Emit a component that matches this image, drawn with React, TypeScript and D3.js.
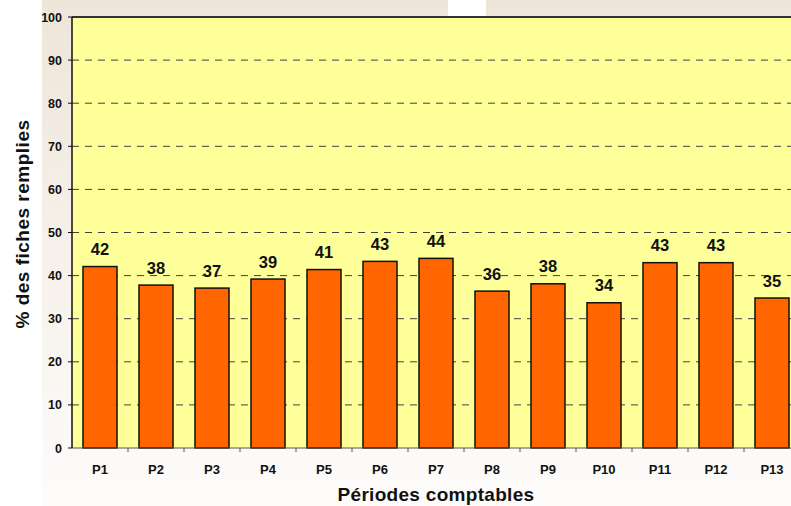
import React from "react";
import * as d3 from "d3";

const categories = ["P1", "P2", "P3", "P4", "P5", "P6", "P7", "P8", "P9", "P10", "P11", "P12", "P13"];
const values = [42.1, 37.8, 37.1, 39.2, 41.4, 43.3, 44.0, 36.4, 38.1, 33.7, 43.0, 43.0, 34.8];
const yTicks = [0, 10, 20, 30, 40, 50, 60, 70, 80, 90, 100];
const yTitle = "% des fiches remplies";
const xTitle = "Périodes comptables";

const W = 791;
const H = 506;
const FONT = "Arial, 'Liberation Sans', sans-serif";

export default function App() {
  const left = 72;
  const top = 17;
  const bottom = 448;
  const plotRight = 800;
  const x = d3.scaleBand<string>().domain(categories).range([left, plotRight]).paddingInner(22 / 56).paddingOuter(11 / 56);
  const xOuter = d3.scaleBand<string>().domain(categories).range([left, plotRight]);
  const y = d3.scaleLinear().domain([0, 100]).range([bottom, top]);
  const fmt = d3.format(".0f");

  return (
    <svg width={W} height={H} style={{ position: "absolute", left: 0, top: 0 }} xmlns="http://www.w3.org/2000/svg">
      <defs>
        <linearGradient id="bg" x1="0" y1="0" x2="0" y2="1">
          <stop offset="0" stopColor="#EFE5D9" />
          <stop offset="1" stopColor="#FDFCFB" />
        </linearGradient>
      </defs>
      <rect x={0} y={0} width={W} height={H} fill="#ffffff" />
      <rect x={42} y={0} width={W - 42} height={H} fill="url(#bg)" />
      <rect x={448} y={0} width={38} height={16} fill="#ffffff" />
      {/* plot area */}
      <rect x={left} y={top} width={plotRight - left} height={bottom - top} fill="#FFFF99" />
      {/* gridlines */}
      {yTicks.filter((t) => t > 0 && t < 100).map((t) => (
        <line key={"g" + t} x1={left} x2={plotRight} y1={y(t)} y2={y(t)} stroke="#404040" strokeWidth={1} strokeDasharray="7,6" />
      ))}
      {/* top border */}
      <line x1={left} x2={plotRight} y1={y(100)} y2={y(100)} stroke="#333333" strokeWidth={2} />
      {/* bars */}
      {categories.map((c, i) => (
        <rect key={c} x={x(c)!} y={y(values[i])} width={x.bandwidth()} height={bottom - y(values[i])} fill="#FF6600" stroke="#111111" strokeWidth={1.5} />
      ))}
      {/* data labels */}
      {categories.map((c, i) => (
        <text key={"l" + c} x={x(c)! + x.bandwidth() / 2} y={y(values[i]) - 11.5} textAnchor="middle" fontFamily={FONT} fontWeight="bold" fontSize={16.5} fill="#111111">
          {fmt(values[i])}
        </text>
      ))}
      {/* x axis */}
      <line x1={left} x2={plotRight} y1={bottom} y2={bottom} stroke="#555555" strokeWidth={1} />
      {categories.map((c) => (
        <line key={"t" + c} x1={xOuter(c)! + xOuter.bandwidth()} x2={xOuter(c)! + xOuter.bandwidth()} y1={bottom} y2={bottom + 4} stroke="#555555" strokeWidth={1} />
      ))}
      {categories.map((c) => (
        <text key={"c" + c} x={xOuter(c)! + xOuter.bandwidth() / 2} y={474} textAnchor="middle" fontFamily={FONT} fontWeight="bold" fontSize={13} fill="#111111">
          {c}
        </text>
      ))}
      {/* y axis */}
      <line x1={left} x2={left} y1={top} y2={bottom} stroke="#111111" strokeWidth={1.5} />
      {yTicks.map((t) => (
        <g key={"y" + t}>
          <line x1={left - 4} x2={left} y1={y(t)} y2={y(t)} stroke="#111111" strokeWidth={1} />
          <text x={62} y={y(t) + 4.5} textAnchor="end" fontFamily={FONT} fontWeight="bold" fontSize={12.5} fill="#111111">
            {t}
          </text>
        </g>
      ))}
      {/* titles */}
      <text x={(left + plotRight) / 2} y={501} textAnchor="middle" fontFamily={FONT} fontWeight="bold" fontSize={19} letterSpacing={0.3} fill="#111111">
        {xTitle}
      </text>
      <text transform={`translate(29,224) rotate(-90)`} textAnchor="middle" fontFamily={FONT} fontWeight="bold" fontSize={19} letterSpacing={0.5} fill="#111111">
        {yTitle}
      </text>
    </svg>
  );
}
